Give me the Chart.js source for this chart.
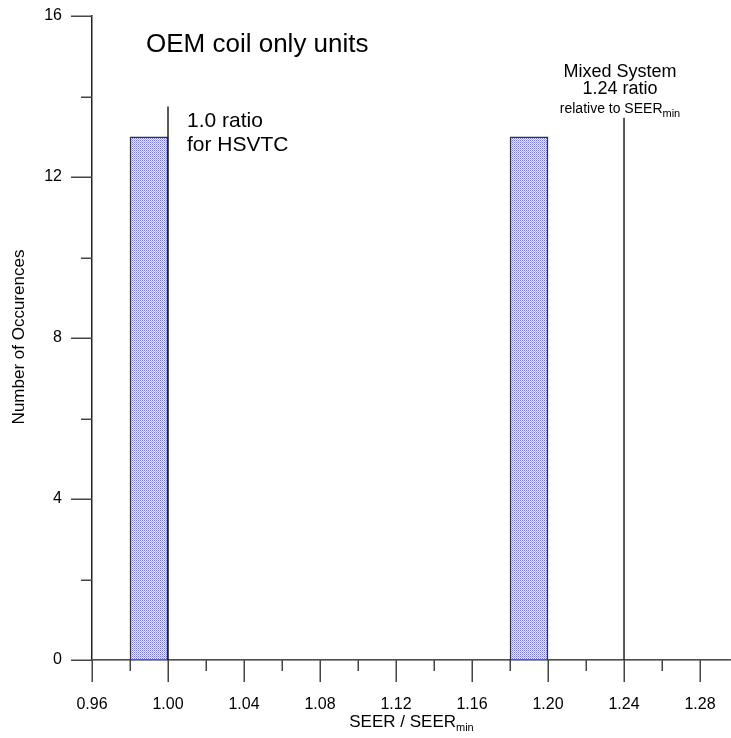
<!DOCTYPE html>
<html>
<head>
<meta charset="utf-8">
<script src="https://cdn.jsdelivr.net/npm/chart.js@4"></script>
<style>
  body { margin: 0; background: #fff; overflow: hidden; }
  #wrap { width: 731px; height: 738px; position: relative; }
</style>
</head>
<body>
<div id="wrap"><canvas id="grafico"></canvas></div>
<script>
// bins of width 0.02 (centre values) and their counts
const binCentres = [0.97, 0.99, 1.01, 1.03, 1.05, 1.07, 1.09, 1.11, 1.13, 1.15, 1.17, 1.19, 1.21, 1.23, 1.25, 1.27, 1.29];
const binCounts  = [0,    13,   0,    0,    0,    0,    0,    0,    0,    0,    0,    13,   0,    0,    0,    0,    0];

// reference lines: x position and top of line
const refLineX   = [1.00, 1.24];
const refLineTop = [13.75, 13.47];

const xMin = 0.96, xMax = 1.2963;
const yMin = 0, yMax = 16;

const FONT = "'Liberation Sans', Arial, sans-serif";

// dotted blue fill like the original hatch
function padrao() {
  const c = document.createElement("canvas");
  c.width = 2; c.height = 2;
  const g = c.getContext("2d");
  g.fillStyle = "#f2f2ff";
  g.fillRect(0, 0, 2, 2);
  g.fillStyle = "#6e6ef0";
  g.fillRect(0, 0, 1, 1);
  g.fillStyle = "#a9aefa";
  g.fillRect(1, 1, 1, 1);
  return g.createPattern(c, "repeat");
}

const isMajorX = v => Math.round(v * 100) % 4 === 0;
const isMajorY = v => Math.round(v) % 4 === 0;

// tick marks (major long, minor short) + free texts
const extras = {
  id: "extras",
  afterDraw(chart) {
    const { ctx, chartArea, scales: { x, y } } = chart;
    ctx.save();
    ctx.strokeStyle = "#444";
    ctx.lineWidth = 1.5;
    x.ticks.forEach(t => {
      const px = Math.round(x.getPixelForValue(t.value)) + 0.25;
      ctx.beginPath();
      ctx.moveTo(px, chartArea.bottom);
      ctx.lineTo(px, chartArea.bottom + (isMajorX(t.value) ? 22 : 11));
      ctx.stroke();
    });
    y.ticks.forEach(t => {
      const py = Math.round(y.getPixelForValue(t.value)) + 0.25;
      ctx.beginPath();
      ctx.moveTo(chartArea.left, py);
      ctx.lineTo(chartArea.left - (isMajorY(t.value) ? 21 : 11), py);
      ctx.stroke();
    });

    ctx.fillStyle = "#000";
    ctx.textBaseline = "alphabetic";

    // title
    ctx.textAlign = "left";
    ctx.font = "26px " + FONT;
    ctx.fillText("OEM coil only units", 146, 52);

    // 1.0 ratio note
    ctx.font = "21px " + FONT;
    ctx.fillText("1.0 ratio", 187, 127);
    ctx.fillText("for HSVTC", 187, 151);

    // mixed system note
    ctx.textAlign = "center";
    ctx.font = "18px " + FONT;
    ctx.fillText("Mixed System", 620, 77);
    ctx.fillText("1.24 ratio", 620, 94);
    subTexto(ctx, "relative to SEER", "min", 620, 113, 14, 11);

    // x axis title
    subTexto(ctx, "SEER / SEER", "min", (chartArea.left + chartArea.right) / 2, 727, 17, 11);

    // y axis title
    ctx.save();
    ctx.translate(24, 337);
    ctx.rotate(-Math.PI / 2);
    ctx.textAlign = "center";
    ctx.font = "17px " + FONT;
    ctx.fillText("Number of Occurences", 0, 0);
    ctx.restore();

    ctx.restore();
  }
};

function subTexto(ctx, main, sub, cx, base, size, subSize) {
  ctx.save();
  ctx.textAlign = "left";
  ctx.font = size + "px " + FONT;
  const w1 = ctx.measureText(main).width;
  ctx.font = subSize + "px " + FONT;
  const w2 = ctx.measureText(sub).width;
  const x0 = cx - (w1 + w2) / 2;
  ctx.font = size + "px " + FONT;
  ctx.fillText(main, x0, base);
  ctx.font = subSize + "px " + FONT;
  ctx.fillText(sub, x0 + w1, base + 4);
  ctx.restore();
}

const datasets = [
  {
    type: "bar",
    data: binCentres.map((c, i) => ({ x: c, y: binCounts[i] })),
    backgroundColor: padrao(),
    borderColor: "#333",
    borderWidth: ctx => (ctx.raw && ctx.raw.y > 0 ? 1.5 : 0),
    barPercentage: 1,
    categoryPercentage: 1,
    order: 2
  }
];
refLineX.forEach((v, i) => {
  datasets.push({
    type: "line",
    data: [{ x: v, y: 0 }, { x: v, y: refLineTop[i] }],
    borderColor: "#222",
    borderWidth: 1.5,
    pointRadius: 0,
    order: 1
  });
});

const grafico = new Chart(document.getElementById("grafico").getContext("2d"), {
  type: "bar",
  data: { datasets },
  options: {
    responsive: true,
    maintainAspectRatio: false,
    animation: false,
    layout: { padding: { top: 16, left: 0, right: 0, bottom: 0 } },
    plugins: { legend: { display: false }, tooltip: { enabled: false } },
    scales: {
      x: {
        type: "linear",
        min: xMin,
        max: xMax,
        offset: false,
        grid: { display: true, drawOnChartArea: false, drawTicks: false },
        border: { display: true, color: "#222", width: 1.5 },
        ticks: {
          stepSize: 0.02,
          includeBounds: false,
          autoSkip: false,
          maxRotation: 0,
          padding: 35,
          color: "#000",
          font: { family: FONT, size: 16 },
          callback: v => (isMajorX(v) ? v.toFixed(2) : "")
        },
        afterFit: s => {
          s.height = 78;
          s.paddingLeft = 0; s.paddingRight = 0;
        }
      },
      y: {
        min: yMin,
        max: yMax,
        grid: { display: true, drawOnChartArea: false, drawTicks: false },
        border: { display: true, color: "#222", width: 1.5 },
        ticks: {
          stepSize: 2,
          padding: 30,
          color: "#000",
          font: { family: FONT, size: 16 },
          callback: v => (isMajorY(v) ? String(v) : "")
        },
        afterFit: s => {
          s.width = 92;
          s.paddingTop = 0; s.paddingBottom = 0;
        }
      }
    }
  },
  plugins: [extras]
});
</script>
</body>
</html>
